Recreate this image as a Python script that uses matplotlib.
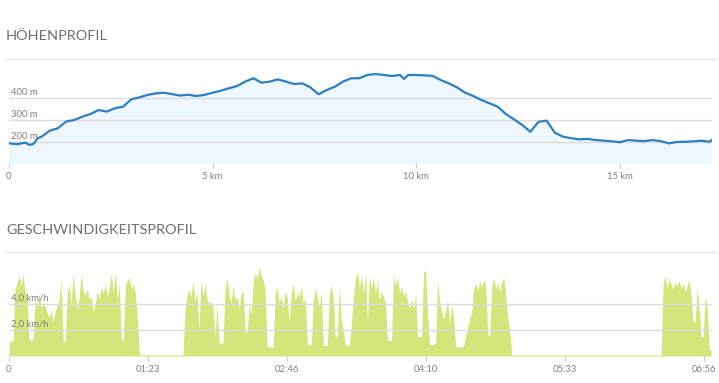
import numpy as np
import matplotlib.pyplot as plt

# ============================
# DATEN
# ============================
# Höhenprofil: Distanz (km) und Höhe (m)
dist_km = [0.0, 0.2, 0.4, 0.5, 0.6, 0.7, 0.8, 1.0, 1.2, 1.4,
           1.6, 1.8, 2.0, 2.2, 2.4, 2.6, 2.8, 3.0, 3.2, 3.4,
           3.6, 3.8, 4.0, 4.2, 4.4, 4.6, 4.8, 5.0, 5.2, 5.4,
           5.6, 5.8, 6.0, 6.2, 6.4, 6.6, 6.8, 7.0, 7.2, 7.4,
           7.6, 7.8, 8.0, 8.2, 8.4, 8.6, 8.8, 9.0, 9.2, 9.4,
           9.6, 9.7, 9.8, 10.0, 10.2, 10.4, 10.6, 10.8, 11.0, 11.2,
           11.4, 11.6, 11.8, 12.0, 12.2, 12.4, 12.6, 12.8, 13.0, 13.2,
           13.4, 13.6, 13.8, 14.0, 14.2, 14.4, 14.6, 14.8, 15.0, 15.2,
           15.4, 15.6, 15.8, 16.0, 16.2, 16.4, 16.6, 16.8, 17.0, 17.2,
           17.25]
hoehe_m = [194, 190, 197, 187, 191, 217, 224, 251, 262, 292,
           299, 314, 326, 344, 337, 352, 359, 392, 401, 412,
           419, 422, 416, 409, 413, 407, 412, 422, 431, 442,
           452, 472, 487, 467, 472, 482, 472, 461, 464, 446,
           415, 434, 449, 472, 487, 487, 502, 506, 502, 497,
           502, 484, 502, 502, 500, 498, 479, 464, 446, 422,
           407, 389, 374, 359, 326, 302, 277, 246, 291, 296,
           242, 224, 217, 212, 214, 209, 206, 203, 199, 209,
           206, 204, 209, 204, 194, 200, 201, 203, 206, 201,
           208]
hoehe_ticks = [200, 300, 400]
dist_ticks = [0, 5, 10, 15]
dist_labels = ["0", "5 km", "10 km", "15 km"]

# Geschwindigkeitsprofil: Abschnitte in Bewegung (km/h), Takt 1,2 min
takt_min = 1.2
start_min = [0.0, 105.3, 391.4]
stand_kmh = 0.08
abschnitt_1 = [1.1, 1.1, 1.2, 5.2, 5.6, 6.2, 5.4, 6.3, 5.0, 4.6,
               1.3, 1.2, 1.3, 4.2, 3.8, 4.9, 3.7, 4.0, 3.9, 3.3,
               3.0, 3.5, 2.6, 3.4, 3.9, 4.3, 5.9, 1.1, 1.1, 4.8,
               5.5, 4.0, 6.3, 4.6, 3.6, 4.5, 6.3, 5.0, 4.7, 5.2,
               4.4, 4.6, 3.4, 4.0, 5.0, 4.4, 5.3, 4.8, 5.5, 4.6,
               5.2, 6.4, 4.9, 6.5, 4.3, 5.6, 1.2, 1.3, 5.4, 5.9,
               6.0, 5.2, 5.6, 4.8, 3.0]
abschnitt_2 = [3.4, 4.6, 5.2, 4.5, 5.8, 4.2, 5.0, 2.0, 5.9, 4.6,
               5.6, 4.4, 4.0, 4.2, 3.7, 1.5, 4.0, 1.0, 1.0, 1.0,
               5.2, 6.0, 4.8, 4.0, 5.5, 4.3, 4.6, 3.7, 4.8, 5.1,
               2.0, 1.8, 4.0, 3.2, 5.7, 6.4, 6.0, 6.9, 6.2, 5.9,
               5.0, 0.7, 0.7, 0.7, 0.7, 4.9, 5.3, 4.1, 4.6, 3.7,
               5.0, 4.5, 2.5, 4.8, 5.6, 4.2, 4.9, 4.5, 5.4, 3.9,
               4.6, 0.9, 0.9, 0.9, 4.3, 5.2, 4.5, 3.8, 5.0, 0.8,
               0.8, 0.8, 4.8, 5.5, 4.2, 1.4, 1.6, 5.5, 2.8, 1.9,
               0.8, 0.8, 0.9, 2.4, 4.6, 5.9, 6.5, 5.3, 6.2, 4.8,
               6.4, 2.6, 6.3, 5.2, 6.1, 4.9, 5.8, 4.3, 5.0, 4.6,
               3.9, 1.2, 1.2, 1.2, 6.3, 5.4, 6.1, 4.9, 5.3, 4.6,
               5.0, 4.2, 3.7, 4.4, 3.6, 4.8, 1.5, 1.5, 1.5, 6.6,
               6.5, 3.2, 0.9, 0.9, 0.9, 1.0, 5.8, 4.2, 3.4, 2.8,
               3.6, 4.3, 2.5, 3.9, 3.0, 0.7, 0.7, 0.7, 0.7, 0.8,
               1.6, 2.2, 2.9, 3.3, 5.2, 5.6, 5.0, 5.8, 5.3, 5.9,
               5.5, 1.6, 1.6, 5.4, 6.0, 5.2, 5.6, 5.0, 5.7, 6.1,
               4.6, 3.0, 2.0]
abschnitt_3 = [5.5, 6.2, 5.3, 5.9, 5.6, 5.1, 5.7, 5.4, 5.8, 5.2,
               5.6, 5.0, 5.4, 5.9, 4.6, 2.6, 2.6, 5.3, 3.8, 1.5,
               1.5, 4.6, 3.8, 0.5, 0.4]
tempo_ticks = [2.0, 4.0]
tempo_labels = ["2,0 km/h", "4,0 km/h"]
zeit_ticks_min = [0, 83.2, 166.4, 249.6, 332.8, 416.0]
zeit_labels = ["0", "01:23", "02:46", "04:10", "05:33", "06:56"]

# ============================
# STIL
# ============================
plt.rcParams["font.family"] = ["Lato", "DejaVu Sans"]
W, H = 719, 383
titel_farbe = "#6e6e6e"
label_farbe = "#808080"
gitter_farbe = "#dcdcdc"
linie_farbe = "#2c7fc3"
flaeche_farbe = "#eef6fe"
tempo_farbe = "#d2e67c"

fig = plt.figure(figsize=(W / 100, H / 100), dpi=100)


def achse(links, oben, rechts, unten):
    # Pixelkoordinaten -> Figurkoordinaten
    return fig.add_axes([links / W, 1 - unten / H, (rechts - links) / W, (unten - oben) / H])


def stil(ax, yticks, ylabels):
    for s in ax.spines.values():
        s.set_visible(False)
    ax.set_yticks([])
    for y, lab in zip(yticks, ylabels):
        ax.axhline(y, color=gitter_farbe, lw=1, zorder=3)
        ax.annotate(lab, (0, y), xycoords=("axes fraction", "data"),
                    xytext=(2, 1), textcoords="offset pixels",
                    fontsize=6.8, color=label_farbe, va="bottom", ha="left", zorder=5)
    ax.tick_params(axis="x", length=3.6, width=0.8, color="#cccccc",
                   labelsize=6.8, labelcolor=label_farbe, pad=3)


# Überschriften und Trennlinien
for text, y_txt, y_lin in [("HÖHENPROFIL", 39.5, 58.5), ("GESCHWINDIGKEITSPROFIL", 234, 251.5)]:
    fig.text(6 / W, 1 - y_txt / H, text, fontsize=10.4, color=titel_farbe, va="baseline", ha="left")
    fig.add_artist(plt.Line2D([6 / W, 716 / W], [1 - y_lin / H] * 2, color="#e6e6e6", lw=1))

# ============================
# HÖHENPROFIL
# ============================
ax1 = achse(9, 65, 712, 163)
ax1.fill_between(dist_km, 0, hoehe_m, color=flaeche_farbe, lw=0, zorder=1)
ax1.plot(dist_km, hoehe_m, color=linie_farbe, lw=1.6, zorder=4)
ax1.set_xlim(0, 17.26)
ax1.set_ylim(105.4, 546.8)
stil(ax1, hoehe_ticks, [f"{h} m" for h in hoehe_ticks])
ax1.set_xticks(dist_ticks)
ax1.set_xticklabels(dist_labels)

# ============================
# GESCHWINDIGKEITSPROFIL
# ============================
abschnitte = [abschnitt_1, abschnitt_2, abschnitt_3]
zeit, tempo = [], []
for i, (t0, werte) in enumerate(zip(start_min, abschnitte)):
    t = t0 + takt_min * np.arange(len(werte))
    if i > 0:
        zeit.append(t0 - takt_min)
        tempo.append(stand_kmh)
    zeit.extend(t)
    tempo.extend(werte)
    if i < len(abschnitte) - 1:
        zeit.append(t[-1] + takt_min)
        tempo.append(stand_kmh)

ax2 = achse(9, 262, 712, 356)
ax2.fill_between(zeit, 0, tempo, color=tempo_farbe, lw=0, zorder=1)
ax2.set_xlim(0, 420.7)
ax2.set_ylim(0, 7.25)
stil(ax2, tempo_ticks, tempo_labels)
ax2.set_xticks(zeit_ticks_min)
ax2.set_xticklabels(zeit_labels)

fig.savefig("out.png", dpi=100)
